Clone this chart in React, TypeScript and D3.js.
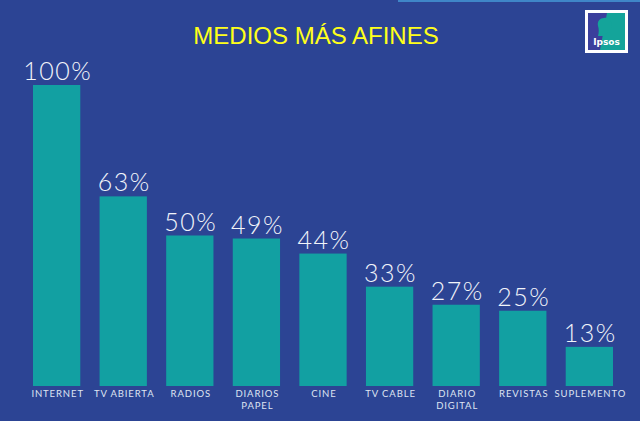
import React from "react";
import * as d3 from "d3";

const title = "MEDIOS MÁS AFINES";
const categories = [
  ["INTERNET"],
  ["TV ABIERTA"],
  ["RADIOS"],
  ["DIARIOS", "PAPEL"],
  ["CINE"],
  ["TV CABLE"],
  ["DIARIO", "DIGITAL"],
  ["REVISTAS"],
  ["SUPLEMENTO"],
];
const values = [100, 63, 50, 49, 44, 33, 27, 25, 13];

const W = 640;
const H = 421;
const BG = "#2c4494";
const BAR = "#12a0a2";

export default function App() {
  const keys = categories.map((c) => c.join(" "));
  const x = d3.scaleBand<string>().domain(keys).range([33, 613]).paddingInner(0.29).paddingOuter(0);
  const y = d3.scaleLinear().domain([0, 100]).range([386, 85]);

  return (
    <svg
      width={W}
      height={H}
      style={{ position: "absolute", left: 0, top: 0, display: "block" }}
      xmlns="http://www.w3.org/2000/svg"
    >
      <rect x={0} y={0} width={W} height={H} fill={BG} />
      <rect x={398} y={0} width={242} height={2} fill="#3f86c8" />
      <text
        x={316}
        y={44}
        textAnchor="middle"
        fill="#ffff1a"
        fontFamily="'Liberation Sans', Arial, sans-serif"
        fontSize={24}
      >
        {title}
      </text>

      {/* logo */}
      <g>
        <rect x={585} y={10} width={43} height={43} fill="#ffffff" />
        <rect x={588} y={13} width={37} height={37} fill="#3b3f9c" />
        <path d="M607,13 L625,13 L625,50 L600,50 Z" fill="#14a49a" />
        <path
          d="M604,18 C609,17 612,21 611,25 L612,28 L610,29 L610,32 C608,33 606,33 605,34 L605,36 L598,36 C599,32 599,29 598,26 C597,21 600,18 604,18 Z"
          fill="#14a49a"
        />
        <text
          x={606.5}
          y={45}
          textAnchor="middle"
          fill="#ffffff"
          fontFamily="'DejaVu Sans', sans-serif"
          fontWeight={700}
          fontSize={9}
        >
          Ipsos
        </text>
      </g>

      {values.map((v, i) => {
        const k = keys[i];
        const bx = x(k)!;
        const bw = x.bandwidth();
        const cx = bx + bw / 2 + 1;
        return (
          <g key={k}>
            <rect x={bx} y={y(v)} width={bw} height={y(0) - y(v)} fill={BAR} />
            <text
              x={cx}
              y={y(v) - 5}
              textAnchor="middle"
              fill="#f2f4fa"
              fontFamily="Lato, 'Open Sans', sans-serif"
              fontWeight={300}
              fontSize={25}
              letterSpacing={1.5}
            >
              {v}%
            </text>
            {categories[i].map((line, j) => (
              <text
                key={j}
                x={cx}
                y={397 + j * 11.5}
                textAnchor="middle"
                fill="#dfe5f2"
                fontFamily="Lato, 'Open Sans', sans-serif"
                fontSize={9.5}
                letterSpacing={0.9}
              >
                {line}
              </text>
            ))}
          </g>
        );
      })}
    </svg>
  );
}
